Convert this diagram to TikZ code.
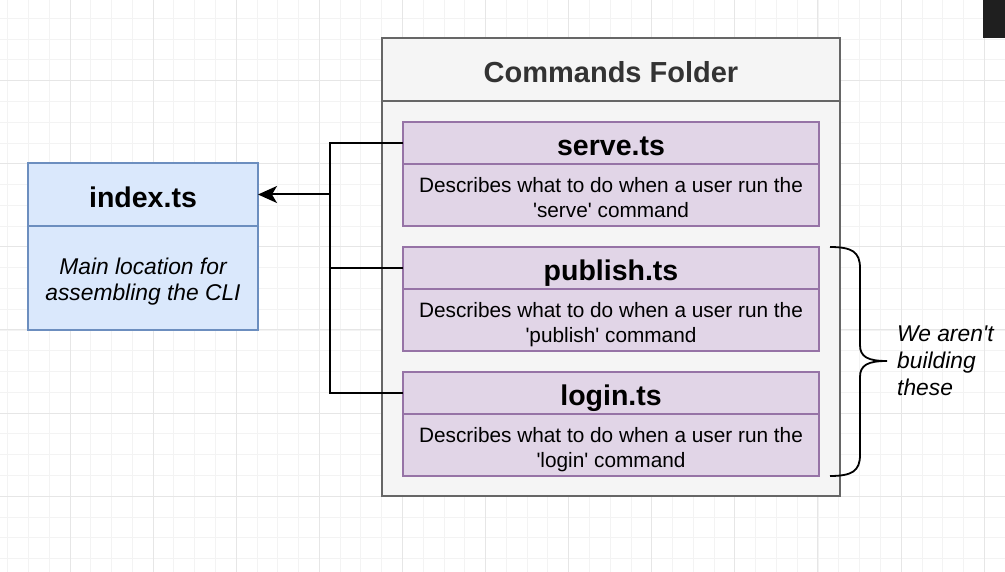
\documentclass[tikz,border=0pt]{standalone}
\usepackage{fontspec}
\setmainfont{Liberation Sans}
\usetikzlibrary{positioning,arrows.meta}
\definecolor{bluefill}{HTML}{DAE8FC}
\definecolor{blueline}{HTML}{6C8EBF}
\definecolor{purplefill}{HTML}{E1D5E7}
\definecolor{purpleline}{HTML}{9673A6}
\definecolor{folderfill}{HTML}{F5F5F5}
\definecolor{folderline}{HTML}{666666}
\definecolor{foldertext}{HTML}{333333}
\definecolor{gridminor}{HTML}{F3F3F3}
\definecolor{gridmajor}{HTML}{E6E6E6}

\begin{document}
\begin{tikzpicture}[x=1pt,y=-1pt,node distance=21pt,
    box/.style={draw,line width=2pt,outer sep=0pt,inner sep=0pt,align=center},
    head/.style={box,font=\fontsize{28.5}{34}\selectfont\bfseries,text height=25pt,text depth=0pt},
    desc/.style={box,font=\fontsize{20.8}{25}\selectfont,text height=45.8pt,text depth=0pt},
    idx/.style={fill=bluefill,draw=blueline,minimum width=230pt},
    cmd/.style={fill=purplefill,draw=purpleline,minimum width=416pt},
    folder/.style={fill=folderfill,draw=folderline,minimum width=458pt},
    wire/.style={line width=2pt},
    note/.style={font=\fontsize{22.8}{27}\selectfont\itshape,align=left,inner sep=0pt}]
   \useasboundingbox (0,0) rectangle (1005,572);
   \fill[white] (0,0) rectangle (1005,572);
   % grid
   \foreach \i in {1,...,48} \draw[gridminor,line width=1pt] ({-13.1+20.78*\i},0) -- ++(0,572);
   \foreach \j in {1,...,27} \draw[gridminor,line width=1pt] (0,{-2.4+20.78*\j}) -- ++(1005,0);
   \foreach \i in {1,...,12} \draw[gridmajor,line width=1pt] ({-13.1+83.1*\i},0) -- ++(0,572);
   \foreach \j in {1,...,6} \draw[gridmajor,line width=1pt] (0,{-2.4+83.1*\j}) -- ++(1005,0);
   \fill[black!88] (983,0) rectangle (1005,38);

   % index.ts
   \node[head,idx,minimum height=63pt,text height=25.5pt] (index_h) at (143,194.5) {index.ts};
   \node[box,idx,minimum height=104pt,font=\fontsize{22.8}{26.7}\selectfont\itshape,text height=45.9pt,text depth=0pt]
        (index_b) [below=0pt of index_h] {Main location for\\assembling the CLI};

   % commands folder
   \node[head,folder,minimum height=63pt,text=foldertext,font=\fontsize{29}{34}\selectfont\bfseries,text height=26.4pt]
        (folder_h) at (611,69.5) {Commands Folder};
   \node[box,folder,minimum height=395pt] (folder_b) [below=0pt of folder_h] {};

   \node[head,cmd,minimum height=42pt] (serve_h) at (611,143) {serve.ts};
   \node[desc,cmd,minimum height=62pt] (serve_b) [below=0pt of serve_h]
        {Describes what to do when a user run the\\\textquotesingle serve\textquotesingle{} command};
   \node[head,cmd,minimum height=42pt] (publish_h) [below=of serve_b] {publish.ts};
   \node[desc,cmd,minimum height=62pt] (publish_b) [below=0pt of publish_h]
        {Describes what to do when a user run the\\\textquotesingle publish\textquotesingle{} command};
   \node[head,cmd,minimum height=42pt] (login_h) [below=of publish_b] {login.ts};
   \node[desc,cmd,minimum height=62pt] (login_b) [below=0pt of login_h]
        {Describes what to do when a user run the\\\textquotesingle login\textquotesingle{} command};

   % connectors
   \coordinate (trunk) at (330,194.5);
   \draw[wire] (serve_h.west) -| (trunk) |- (login_h.west);
   \draw[wire] (publish_h.west) -- (publish_h.west -| trunk);
   \draw[wire,-{Stealth[length=19pt,width=17pt,inset=5pt]}] (trunk) -- (index_h.east);

   % brace
   \coordinate (tip) at (887,361);
   \draw[wire,line width=1.8pt] (830,247) .. controls (852,247) and (860,252) .. (860,268)
        -- (860,345) .. controls (860,357) and (868,361) .. (tip)
        .. controls (868,361) and (860,365) .. (860,377)
        -- (860,455) .. controls (860,471) and (852,476) .. (830,476);
   \node[note,anchor=west] (skip) [right=10pt of tip] {We aren\textquotesingle t\\building\\these};
\end{tikzpicture}
\end{document}
